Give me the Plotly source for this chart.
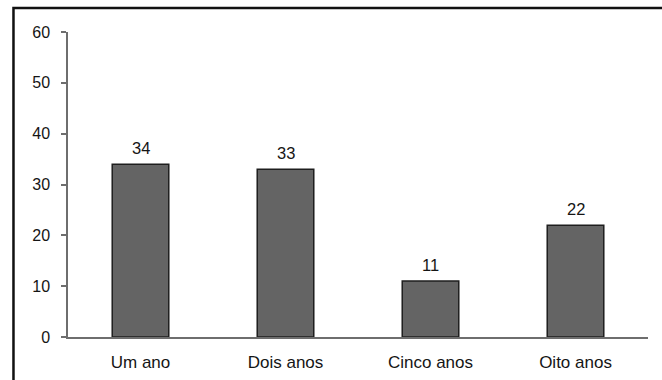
import plotly.graph_objects as go

# Category labels and values for each bar
categories = ["Um ano", "Dois anos", "Cinco anos", "Oito anos"]
values = [34, 33, 11, 22]
y_ticks = [0, 10, 20, 30, 40, 50, 60]

FONT = "Liberation Sans, Arial, sans-serif"
TEXT_COLOR = "#151515"

fig = go.Figure()
fig.add_trace(go.Bar(
    x=categories,
    y=values,
    marker=dict(color="#646464", line=dict(color="#1e1e1e", width=1.5)),
    width=0.39,
    hoverinfo="skip",
))

# Value labels above each bar
for c, v in zip(categories, values):
    fig.add_annotation(
        x=c, y=v, text=str(v), showarrow=False,
        yanchor="bottom", yshift=5,
        font=dict(family=FONT, size=16.5, color=TEXT_COLOR),
    )

# Outer frame (top and left edges visible, others run off the canvas)
fig.add_shape(
    type="rect", xref="paper", yref="paper",
    x0=-0.094, x1=1.2, y0=-0.3, y1=1.079,
    line=dict(color="#111111", width=2.5),
    fillcolor="rgba(0,0,0,0)",
    layer="above",
)

fig.update_layout(
    width=662, height=380,
    margin=dict(l=68, r=14, t=32, b=43),
    paper_bgcolor="white",
    plot_bgcolor="white",
    showlegend=False,
    font=dict(family=FONT, size=16, color=TEXT_COLOR),
    xaxis=dict(
        automargin=False,
        showline=True, linecolor="#6e6e6e", linewidth=1.5,
        ticks="", showgrid=False, zeroline=False,
        ticklabelstandoff=9,
        tickfont=dict(family=FONT, size=17, color=TEXT_COLOR),
    ),
    yaxis=dict(
        automargin=False,
        range=[0, 60], tickvals=y_ticks,
        showline=True, linecolor="#6e6e6e", linewidth=1.5,
        ticks="outside", ticklen=5, tickwidth=1.5, tickcolor="#6e6e6e",
        showgrid=False, zeroline=False,
        ticklabelstandoff=8,
        tickfont=dict(family=FONT, size=16, color=TEXT_COLOR),
    ),
)

fig.write_html("out.html")
